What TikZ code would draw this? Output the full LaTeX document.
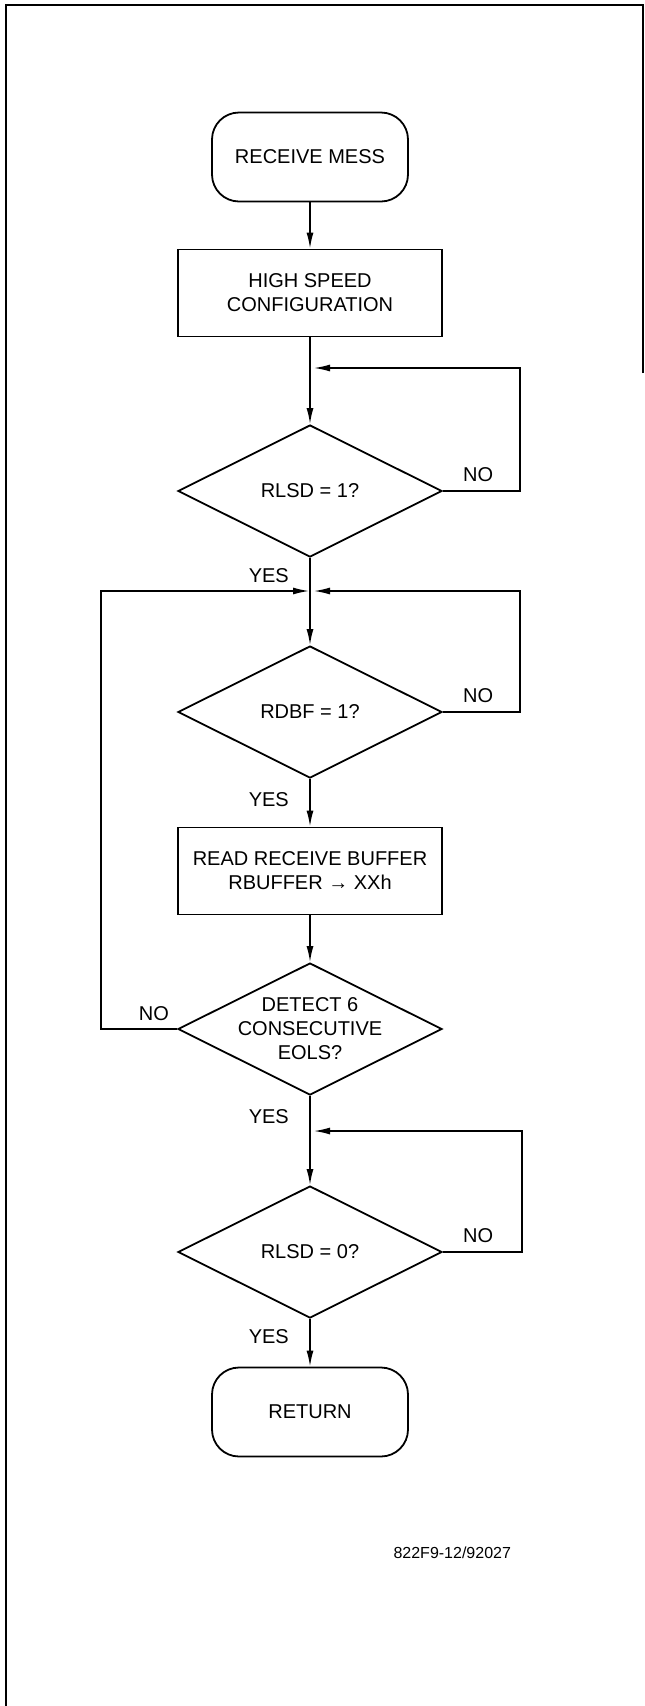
\documentclass[tikz,border=0pt]{standalone}
\usepackage{fontspec}
\setmainfont{Liberation Sans}
\usetikzlibrary{arrows.meta,shapes.geometric,positioning}

\begin{document}
\begin{tikzpicture}[x=1pt,y=-1pt,->,>={Latex[length=16pt,width=7pt]},
    every node/.style={font=\fontsize{20pt}{24pt}\selectfont},
    term/.style={draw,rectangle,rounded corners=27pt,minimum width=196pt,minimum height=89pt,line width=1.8pt},
    proc/.style={draw,rectangle,minimum width=264pt,minimum height=87pt,align=center,line width=1.8pt},
    test/.style={draw,diamond,aspect=2,inner sep=-1pt,minimum width=264pt,minimum height=132pt,align=center,line width=1.8pt},
    lbl/.style={inner sep=0pt},
    flow/.style={line width=1.6pt},
    back/.style={line width=1.4pt,shorten >=4pt}]
            \useasboundingbox (0,0) rectangle (645,1706);
            % sheet border, open at the bottom right
            \draw[-,line width=2.5pt] (643,373) -- (643,5) -- (6,5) -- (6,1706);

            \node[term] (start) at (310,157) {RECEIVE MESS};
            \node[proc] (conf) [below of=start, node distance=136pt] {HIGH SPEED\\CONFIGURATION};
            \node[test] (rlsdA) [below of=conf, node distance=198pt] {RLSD = 1?};
            \node[test] (rdbf) [below of=rlsdA, node distance=221pt] {RDBF = 1?};
            \node[proc] (read) [below of=rdbf, node distance=159pt] {READ RECEIVE BUFFER\\RBUFFER → XXh};
            \node[test] (eols) [below of=read, node distance=158pt] {DETECT 6\\CONSECUTIVE\\EOLS?};
            \node[test] (rlsdB) [below of=eols, node distance=223pt] {RLSD = 0?};
            \node[term] (ret) [below of=rlsdB, node distance=160pt] {RETURN};

            % where the loops join the main line
            \coordinate[below of=conf, node distance=75pt] (jA);
            \coordinate[below of=rlsdA, node distance=100pt] (jB);
            \coordinate[below of=eols, node distance=102pt] (jC);

            \draw[flow] (start) -- (conf);
            \draw[flow] (conf) -- (rlsdA);
            \draw[flow] (rlsdA) -- (rdbf);
            \draw[flow] (rdbf) -- (read);
            \draw[flow] (read) -- (eols);
            \draw[flow] (eols) -- (rlsdB);
            \draw[flow] (rlsdB) -- (ret);

            \draw[back] (rlsdA.east) -- ++(77pt,0) |- (jA);
            \draw[back] (rdbf.east) -- ++(77pt,0) |- (jB);
            \draw[back,shorten >=1pt] (eols.west) -- ++(-76pt,0) |- (jB);
            \draw[back] (rlsdB.east) -- ++(79pt,0) |- (jC);

            \node[lbl, above right=9pt and 20pt of rlsdA.east] {NO};
            \node[lbl, above right=9pt and 20pt of rdbf.east] {NO};
            \node[lbl, above left=8pt and 8pt of eols.west] {NO};
            \node[lbl, above right=9pt and 20pt of rlsdB.east] {NO};

            \node[lbl, below left=10pt and 21pt of rlsdA.south] {YES};
            \node[lbl, below left=13pt and 21pt of rdbf.south] {YES};
            \node[lbl, below left=13pt and 21pt of eols.south] {YES};
            \node[lbl, below left=10pt and 21pt of rlsdB.south] {YES};

            \node[font=\fontsize{16pt}{19pt}\selectfont, anchor=west] (figid) at (390,1553) {822F9-12/92027};
        \end{tikzpicture}
\end{document}
